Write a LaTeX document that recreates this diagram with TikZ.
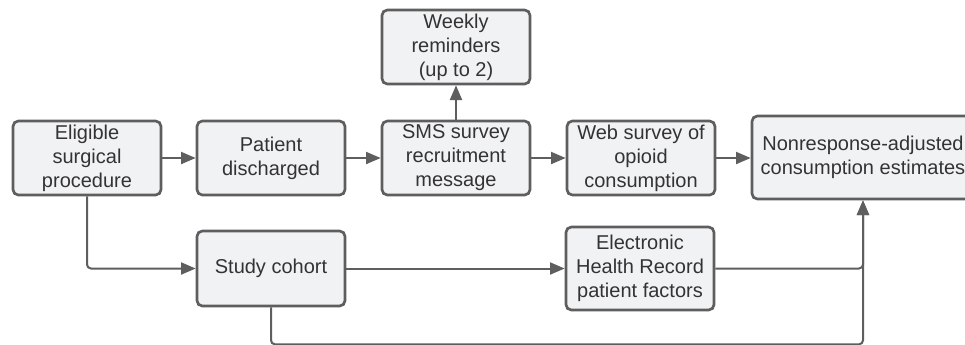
\documentclass[tikz,border=0pt]{standalone}
\usepackage{fontspec}
\setmainfont{Liberation Sans}
\usetikzlibrary{arrows.meta}
\definecolor{bord}{HTML}{5E5E5E}
\definecolor{boxfill}{HTML}{F1F2F4}
\definecolor{txt}{HTML}{333333}
\begin{document}
\begin{tikzpicture}[x=0.75pt,y=-0.75pt,
  box/.style={draw=bord, fill=boxfill, line width=2pt, rounded corners=4pt, align=center, inner sep=0pt,
    font=\fontsize{15}{18}\selectfont, text=txt, minimum width=111pt, minimum height=55.5pt},
  conn/.style={draw=bord, line width=1.5pt, -{Triangle[length=11pt,width=9pt]}, rounded corners=3pt}]
\useasboundingbox (0,0) rectangle (965,344);
\node[box] (elig) at (87,158) {Eligible\\surgical\\procedure};
\node[box] (dis) at (271,158) {Patient\\discharged};
\node[box] (sms) at (456,158) {SMS survey\\recruitment\\message};
\node[box] (week) at (456,47) {Weekly\\reminders\\(up to 2)};
\node[box] (web) at (641,158) {Web survey of\\opioid\\consumption};
\node[box, minimum width=166.5pt, minimum height=62.25pt] (nonr) at (863,157.5) {Nonresponse-adjusted\\consumption estimates};
\node[box, minimum height=56.25pt] (coh) at (271,268.5) {Study cohort};
\node[box, minimum height=62.25pt] (ehr) at (640,268.5) {Electronic\\Health Record\\patient factors};
\draw[conn] (elig) -- (dis);
\draw[conn] (dis) -- (sms);
\draw[conn] (sms) -- (web);
\draw[conn] (web) -- (nonr.west |- web.east);
\draw[conn] (sms) -- (week);
\draw[conn] (elig.south) |- (coh.west);
\draw[conn] (coh) -- (ehr);
\draw[conn] (ehr.east) -| (nonr.south);
\draw[conn] (coh.south) -- ++(0,37) -| (nonr.south);
\end{tikzpicture}
\end{document}
